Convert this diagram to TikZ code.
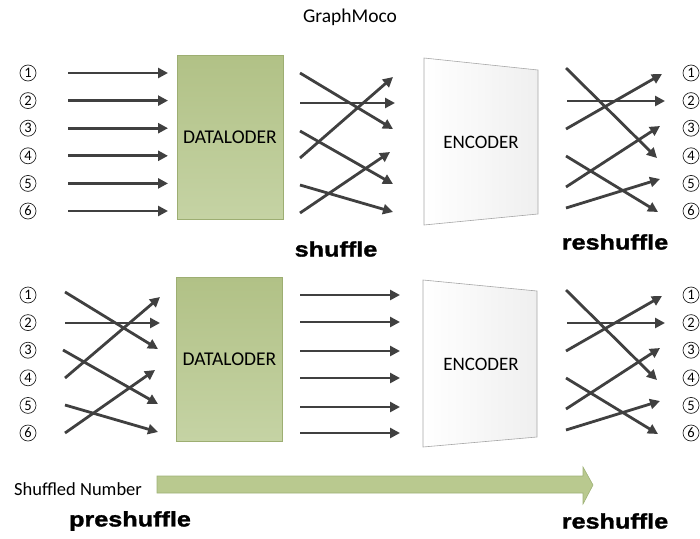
\documentclass[tikz,border=0pt]{standalone}
\usepackage{fontspec}
\setmainfont{Carlito}
\newfontfamily\blk[FakeStretch=1.2,FakeBold=1.5]{Liberation Sans}
\usetikzlibrary{arrows.meta}
\definecolor{arrc}{HTML}{404040}
\definecolor{loadt}{HTML}{B1C186}
\definecolor{loadbot}{HTML}{C5D3A4}
\definecolor{loadb}{HTML}{9DAE72}
\definecolor{encr}{HTML}{EFEFEF}
\definecolor{encb}{HTML}{A6A6A6}
\definecolor{bigf}{HTML}{B9C98F}
\definecolor{bigb}{HTML}{9FB277}
\begin{document}
\begin{tikzpicture}[x=1pt,y=-1pt,
  arr/.style={draw=arrc, line width=2.8pt, -{Triangle[length=10pt,width=10pt]}},
  num/.style={circle, draw=black!85, line width=0.7pt, inner sep=0pt, minimum size=16pt, font=\fontsize{14.5}{14.5}\selectfont},
  loader/.style={draw=loadb, line width=0.5pt, top color=loadt, bottom color=loadbot, minimum width=106pt, minimum height=164pt, inner sep=0pt, font=\fontsize{19.5}{19.5}\selectfont},
  enc/.style={left color=white, right color=encr, draw=encb, line width=0.6pt},
  lbl/.style={font=\blk\bfseries\fontsize{21}{21}\selectfont},
  txt/.style={font=\fontsize{19}{19}\selectfont, inner sep=0pt},
]
\useasboundingbox (0,0) rectangle (700,538);
\node[font=\fontsize{19.5}{19.5}\selectfont] (title) at (350,17) {GraphMoco};

% ---------------- top row ----------------
\foreach \i/\y in {1/73,2/100.6,3/128.2,4/155.8,5/183.4,6/211} {
  \node[num] (tl\i) at (28,\y) {\i};
  \node[num] (tr\i) at (691,\y) {\i};
  \coordinate (tia\i) at (68,\y);
  \coordinate (tib\i) at (168,\y);
  \draw[arr] (tia\i) -- (tib\i);
}
\node[loader] (dl1) at (230,137) {DATALODER};
\foreach \n/\xa/\ya/\xb/\yb in {1/300/73/393/129, 2/300/103/395/103, 3/300/158/393/77,
                                4/300/131/393/184, 5/300/185/393/212, 6/300/213/390/152} {
  \coordinate (tsa\n) at (\xa,\ya);
  \coordinate (tsb\n) at (\xb,\yb);
  \draw[arr] (tsa\n) -- (tsb\n);
}
\coordinate (e1a) at (424,58);
\coordinate (e1b) at (538,70);
\coordinate (e1c) at (538,214);
\coordinate (e1d) at (424,225);
\path[enc] (e1a) -- (e1b) -- (e1c) -- (e1d) -- cycle;
\node[txt] (enc1) at (481,142) {ENCODER};
\foreach \n/\xa/\ya/\xb/\yb in {1/566/68/657/158, 2/567/101/665/101, 3/566/129/662/74,
                                4/566/156/658/212, 5/566/187/660/126, 6/566/208/660/179} {
  \coordinate (tra\n) at (\xa,\ya);
  \coordinate (trb\n) at (\xb,\yb);
  \draw[arr] (tra\n) -- (trb\n);
}
\node[lbl] (shuf) at (336,249) {shuffle};
\node[lbl] (resh1) at (615,242) {reshuffle};

% ---------------- bottom row ----------------
\foreach \i/\y in {1/295,2/322.6,3/350.2,4/377.8,5/405.4,6/433} {
  \node[num] (bl\i) at (28,\y) {\i};
  \node[num] (br\i) at (691,\y) {\i};
}
\foreach \n/\xa/\ya/\xb/\yb in {1/65/292/158/349, 2/65/323/160/323, 3/65/378/160/297,
                                4/63/350/158/404, 5/65/405/158/432, 6/65/433/155/370} {
  \coordinate (bpa\n) at (\xa,\ya);
  \coordinate (bpb\n) at (\xb,\yb);
  \draw[arr] (bpa\n) -- (bpb\n);
}
\node[loader] (dl2) at (229.5,359) {DATALODER};
\foreach \i/\y in {1/295,2/322,3/351,4/378,5/407,6/433} {
  \coordinate (boa\i) at (300,\y);
  \coordinate (bob\i) at (400,\y);
  \draw[arr] (boa\i) -- (bob\i);
}
\coordinate (e2a) at (423,280);
\coordinate (e2b) at (537,291);
\coordinate (e2c) at (537,437);
\coordinate (e2d) at (423,447);
\path[enc] (e2a) -- (e2b) -- (e2c) -- (e2d) -- cycle;
\node[txt] (enc2) at (481,364) {ENCODER};
\foreach \n/\xa/\ya/\xb/\yb in {1/566/290/657/380, 2/567/323/665/323, 3/566/351/662/296,
                                4/566/378/658/434, 5/566/409/660/348, 6/566/430/660/401} {
  \coordinate (bra\n) at (\xa,\ya);
  \coordinate (brb\n) at (\xb,\yb);
  \draw[arr] (bra\n) -- (brb\n);
}

% ---------------- shuffled number arrow ----------------
\node[txt, font=\fontsize{18.5}{18.5}\selectfont] (sn) at (78,489) {Shuffled Number};
\path[fill=bigf, draw=bigb, line width=0.6pt]
  (157,476) -- (583,476) -- (583,467) -- (593,485) -- (583,504) -- (583,493) -- (157,493) -- cycle;
\node[lbl] (pre) at (130,521) {preshuffle};
\node[lbl] (resh2) at (615,521) {reshuffle};
\end{tikzpicture}
\end{document}
